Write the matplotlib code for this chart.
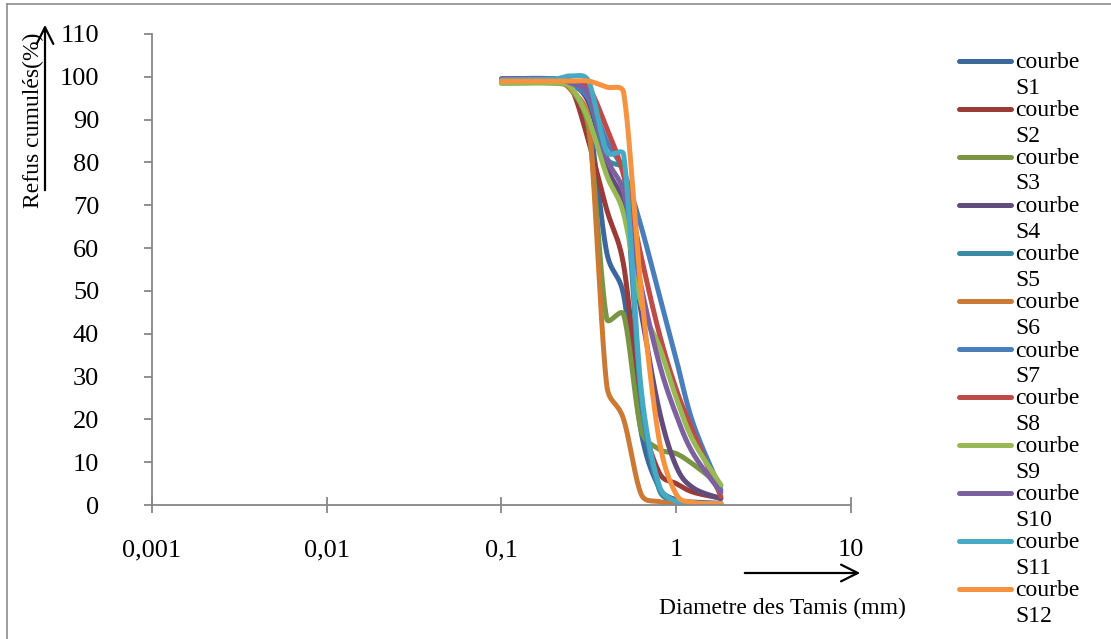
import numpy as np
import matplotlib
matplotlib.use("Agg")
import matplotlib.pyplot as plt
from matplotlib.lines import Line2D
from matplotlib.patches import FancyArrowPatch

plt.rcParams['font.family'] = ['Liberation Serif', 'DejaVu Serif']

# Sieve openings (mm)
sieves = [0.1, 0.2, 0.25, 0.315, 0.4, 0.5, 0.63, 0.8, 1.0, 1.25, 1.8]

# Cumulative retained (%) for each sample
s1 = [99, 99, 97, 90, 59, 49, 17, 4, 1.2, 0.7, 0.4]
s2 = [99.5, 99.5, 97.5, 85, 69, 56, 22, 7.5, 5, 3, 1.6]
s3 = [98.5, 98.5, 97, 88, 43.5, 44.5, 17.5, 13, 12, 9.5, 4.5]
s4 = [99.5, 99.5, 98.5, 94, 79, 70, 45, 22, 9, 4, 1.5]
s5 = [99, 99, 98, 95, 81, 78, 25, 3.5, 0.8, 0.4, 0.3]
s6 = [99, 99, 97, 90, 28, 20, 2.5, 0.8, 0.4, 0.3, 0.2]
s7 = [99, 99, 98, 95, 85, 78, 65, 49, 34, 19, 3.5]
s8 = [99.5, 99.5, 99, 97.5, 88, 77, 58, 40, 27, 17, 2]
s9 = [98.5, 98.5, 97.5, 90, 77, 68, 47, 37, 25, 15, 4.7]
s10 = [99.5, 99.5, 98.5, 96, 81, 73, 51, 33, 21, 12, 3]
s11 = [99.3, 99.5, 100.2, 99, 82.5, 81.8, 27, 4.5, 0.8, 0.4, 0.3]
s12 = [99, 99, 99, 99, 97.6, 96.3, 50, 15, 2.5, 0.6, 0.3]

series = [s1, s2, s3, s4, s5, s6, s7, s8, s9, s10, s11, s12]
labels = ["courbe\nS%d" % (i + 1) for i in range(12)]
colors = ['#3C679D', '#9B3B38', '#7A9544', '#624C7E', '#3A8CA3', '#CB7A35',
          '#4A7EBB', '#BE4B48', '#98B954', '#7D60A0', '#46AAC5', '#F69240']

x_ticks = [0.001, 0.01, 0.1, 1, 10]
x_tick_labels = ["0,001", "0,01", "0,1", "1", "10"]
y_ticks = list(range(0, 111, 10))

# screen scale of the plot (pixels per decade / per percent)
PX_DECADE = 174.5
PX_PERCENT = 4.282


def smooth_curve(xs, ys, n=40):
    """Smoothed line through the points: cubic Bezier segments whose
    control points follow the neighbouring points, with the handle length
    capped at half the segment so the curve does not overshoot."""
    p = np.column_stack([np.log10(np.asarray(xs, float)) * PX_DECADE,
                         np.asarray(ys, float) * PX_PERCENT])
    m = len(p)
    t = np.linspace(0, 1, n)[:, None]
    out = []
    for i in range(m - 1):
        p0 = p[i - 1] if i > 0 else p[i]
        p1, p2 = p[i], p[i + 1]
        p3 = p[i + 2] if i + 2 < m else p[i + 1]
        d12 = np.hypot(*(p2 - p1))
        d02 = np.hypot(*(p2 - p0))
        d13 = np.hypot(*(p3 - p1))
        f0 = 1 / 6.0
        f3 = 1 / 6.0
        if d02 > 0 and d02 * f0 > d12 / 2:
            f0 = d12 / (2 * d02)
        if d13 > 0 and d13 * f3 > d12 / 2:
            f3 = d12 / (2 * d13)
        c1 = p1 + (p2 - p0) * f0
        c2 = p2 - (p3 - p1) * f3
        seg = ((1 - t) ** 3) * p1 + 3 * ((1 - t) ** 2) * t * c1 \
            + 3 * (1 - t) * t ** 2 * c2 + t ** 3 * p2
        out.append(seg if i == 0 else seg[1:])
    out = np.vstack(out)
    return 10 ** (out[:, 0] / PX_DECADE), out[:, 1] / PX_PERCENT


W, H = 1111, 639
fig = plt.figure(figsize=(W / 100, H / 100), dpi=100)
ax = fig.add_axes([152 / W, 1 - 505 / H, (851 - 152) / W, (505 - 34) / H])

for vals, col in zip(series, colors):
    xs, ys = smooth_curve(sieves, vals)
    ax.plot(xs, ys, color=col, lw=3.6, solid_capstyle='round',
            solid_joinstyle='round')

ax.set_xscale('log')
ax.set_xlim(0.001, 10)
ax.set_ylim(0, 110)
ax.set_xticks(x_ticks)
ax.set_xticklabels(x_tick_labels)
ax.xaxis.set_minor_locator(matplotlib.ticker.NullLocator())
ax.set_yticks(y_ticks)

for side in ('top', 'right'):
    ax.spines[side].set_visible(False)
for side in ('left', 'bottom'):
    ax.spines[side].set_color('#878787')
    ax.spines[side].set_linewidth(1.3)
ax.tick_params(axis='x', direction='inout', length=11, width=1.3,
               color='#878787', pad=19, labelsize=19)
ax.tick_params(axis='y', direction='out', length=6, width=1.3,
               color='#878787', pad=32, labelsize=19)

# Axis titles with arrows
fig.text(33 / W, 1 - 120 / H, "Refus cumulés(%)", rotation=90,
         ha='center', va='center', fontsize=17)
fig.add_artist(FancyArrowPatch((45 / W, 1 - 193 / H), (45 / W, 1 - 22 / H),
                               transform=fig.transFigure, arrowstyle='->',
                               mutation_scale=30, lw=1.6, color='black'))
fig.text(782 / W, 1 - 608 / H, "Diametre des Tamis (mm)",
         ha='center', va='center', fontsize=17)
fig.add_artist(FancyArrowPatch((742 / W, 1 - 573 / H), (863 / W, 1 - 573 / H),
                               transform=fig.transFigure, arrowstyle='->',
                               mutation_scale=30, lw=1.6, color='black'))

# Legend entries: line on the first text line, label wrapped on two lines
for i, (lab, col) in enumerate(zip(labels, colors)):
    y = 61 + 48 * i
    fig.add_artist(Line2D([959 / W, 1011 / W], [1 - y / H, 1 - y / H],
                          transform=fig.transFigure, color=col, lw=3.6,
                          solid_capstyle='round'))
    first, second = lab.split("\n")
    fig.text(1015 / W, 1 - (y + 2) / H, first, ha='left', va='center',
             fontsize=17)
    fig.text(1015 / W, 1 - (y + 27) / H, second, ha='left', va='center',
             fontsize=17)

# Chart frame
fig.add_artist(Line2D([7 / W, 1], [1 - 4 / H, 1 - 4 / H],
                      transform=fig.transFigure, color='#8C8C8C', lw=1.2))
fig.add_artist(Line2D([7 / W, 7 / W], [0, 1 - 4 / H],
                      transform=fig.transFigure, color='#8C8C8C', lw=1.2))

fig.savefig("out.png", dpi=100)
